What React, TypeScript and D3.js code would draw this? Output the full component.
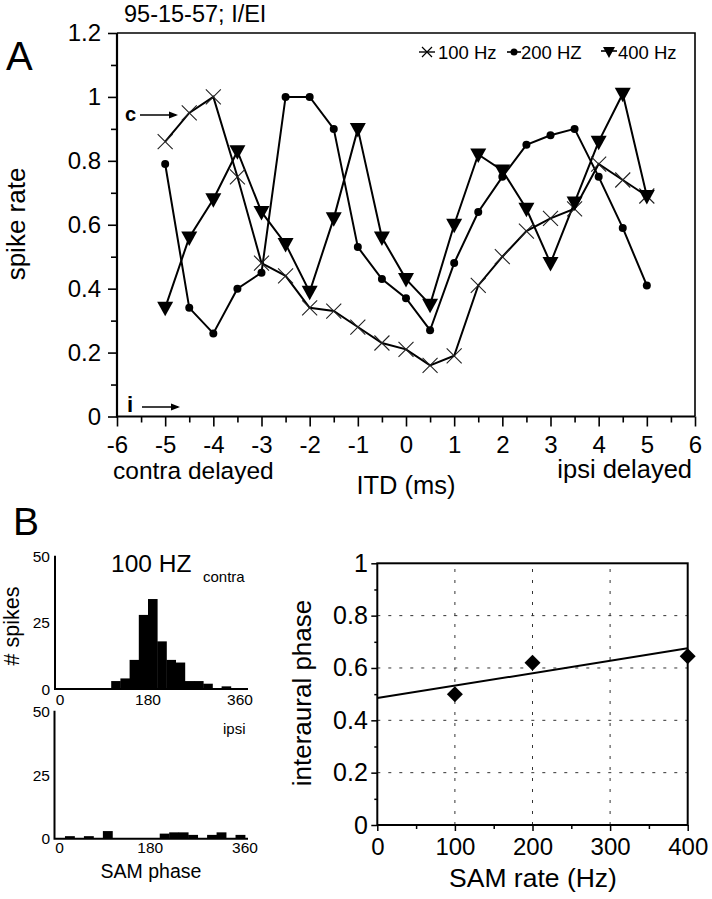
import React, { useEffect, useRef } from 'react';
import * as d3 from 'd3';

// Panel A: rate vs ITD for three SAM rates
const itdMs = [-5, -4.5, -4, -3.5, -3, -2.5, -2, -1.5, -1, -0.5, 0, 0.5, 1, 1.5, 2, 2.5, 3, 3.5, 4, 4.5, 5];
const rate100 = [0.86, 0.95, 1.0, 0.75, 0.48, 0.44, 0.34, 0.33, 0.28, 0.23, 0.21, 0.16, 0.19, 0.41, 0.5, 0.58, 0.62, 0.65, 0.79, 0.74, 0.69];
const rate200 = [0.79, 0.34, 0.26, 0.4, 0.45, 1.0, 1.0, 0.9, 0.53, 0.43, 0.37, 0.27, 0.48, 0.64, 0.75, 0.85, 0.88, 0.9, 0.75, 0.59, 0.41];
const rate400 = [0.34, 0.56, 0.68, 0.83, 0.64, 0.54, 0.39, 0.62, 0.9, 0.56, 0.43, 0.35, 0.6, 0.82, 0.77, 0.65, 0.48, 0.67, 0.86, 1.01, 0.69];
const itdMajor = [-6, -5, -4, -3, -2, -1, 0, 1, 2, 3, 4, 5, 6];
const rateTicks = [0, 0.2, 0.4, 0.6, 0.8, 1, 1.2];

// Panel B: phase histograms (18 deg bins)
const binStarts = [0, 18, 36, 54, 72, 90, 108, 126, 144, 162, 180, 198, 216, 234, 252, 270, 288, 306, 324, 342];
const contraCounts = [0, 0, 0, 0, 0, 0, 3, 4, 11, 28, 34, 18, 11, 10, 3, 3, 2, 0, 1, 0];
const ipsiCounts = [0, 1, 0, 1, 0, 3, 0, 0, 0, 0, 0, 2, 2.5, 2.5, 1.5, 0, 1.5, 2.5, 0, 1.5];
const phaseTicks = [0, 180, 360];
const countTicks = [0, 25, 50];

// Panel B: interaural phase vs SAM rate
const samRates = [100, 200, 400];
const interauralPhase = [0.5, 0.62, 0.645];
const fitRates = [0, 400];
const fitPhase = [0.485, 0.675];
const samTicks = [0, 100, 200, 300, 400];
const phaseAxisTicks = [0, 0.2, 0.4, 0.6, 0.8, 1];

const FONT = "'Liberation Sans', Arial, Helvetica, sans-serif";

const App = () => {
  const ref = useRef<SVGSVGElement | null>(null);

  useEffect(() => {
    const svg = d3.select(ref.current);
    svg.selectAll('*').remove();
    svg.attr('font-family', FONT);

    const fmt = (d: any) => String(+(+d).toFixed(1));

    // ---------- Panel A ----------
    const xA = d3.scaleLinear().domain([-6, 6]).range([117, 695]);
    const yA = d3.scaleLinear().domain([0, 1.2]).range([416.5, 33]);
    const gA = svg.append('g');

    // minor ticks
    gA.append('g')
      .attr('transform', `translate(${xA(-6)},0)`)
      .call(d3.axisLeft(yA).tickValues([0.1, 0.3, 0.5, 0.7, 0.9, 1.1]).tickSize(6).tickFormat(() => ''))
      .call((g) => g.select('.domain').remove());
    gA.append('g')
      .attr('transform', `translate(0,${yA(0)})`)
      .call(d3.axisBottom(xA).tickValues(itdMajor.slice(0, -1).map((d) => d + 0.5)).tickSize(6).tickFormat(() => ''))
      .call((g) => g.select('.domain').remove());

    const yAxisA = gA.append('g')
      .attr('transform', `translate(${xA(-6)},0)`)
      .call(d3.axisLeft(yA).tickValues(rateTicks).tickSize(9).tickPadding(7).tickFormat(fmt));
    yAxisA.select('.domain').remove();
    yAxisA.selectAll('text').attr('font-size', 24).attr('font-family', FONT);

    const xAxisA = gA.append('g')
      .attr('transform', `translate(0,${yA(0)})`)
      .call(d3.axisBottom(xA).tickValues(itdMajor).tickSize(10).tickPadding(9).tickFormat(fmt));
    xAxisA.select('.domain').remove();
    xAxisA.selectAll('text').attr('font-size', 24).attr('font-family', FONT);
    gA.selectAll('.tick line').attr('stroke', '#000').attr('stroke-width', 1.6);

    // frame
    gA.append('path')
      .attr('d', `M${xA(-6)},${yA(1.2)}V${yA(0)}H${xA(6)}`)
      .attr('fill', 'none').attr('stroke', '#000').attr('stroke-width', 2.2);
    gA.append('path')
      .attr('d', `M${xA(-6)},${yA(1.2)}H${xA(6)}V${yA(0)}`)
      .attr('fill', 'none').attr('stroke', '#000').attr('stroke-width', 1.6);

    const line = d3.line<number>().x((_, i) => xA(itdMs[i])).y((d) => yA(d));
    [rate100, rate200, rate400].forEach((s) => {
      gA.append('path').attr('d', line(s)).attr('fill', 'none').attr('stroke', '#000').attr('stroke-width', 2);
    });

    const xMark = (cx: number, cy: number, r: number) =>
      `M${cx - r},${cy - r}L${cx + r},${cy + r}M${cx - r},${cy + r}L${cx + r},${cy - r}`;
    const triMark = (cx: number, cy: number) =>
      `M${cx - 8},${cy - 6}L${cx + 8},${cy - 6}L${cx},${cy + 8.5}Z`;

    gA.append('g').selectAll('path').data(rate100).enter().append('path')
      .attr('d', (d, i) => xMark(xA(itdMs[i]), yA(d), 7.5))
      .attr('stroke', '#222').attr('stroke-width', 1.1).attr('fill', 'none');
    gA.append('g').selectAll('circle').data(rate200).enter().append('circle')
      .attr('cx', (_, i) => xA(itdMs[i])).attr('cy', (d) => yA(d)).attr('r', 4).attr('fill', '#000');
    gA.append('g').selectAll('path').data(rate400).enter().append('path')
      .attr('d', (d, i) => triMark(xA(itdMs[i]), yA(d))).attr('fill', '#000');

    // legend
    const lg = gA.append('g');
    const ly = 52;
    lg.append('path').attr('d', `M419,${ly}H435`).attr('stroke', '#000').attr('stroke-width', 1.4);
    lg.append('path').attr('d', xMark(427, ly, 5)).attr('stroke', '#000').attr('stroke-width', 1.2);
    lg.append('text').attr('x', 438).attr('y', ly + 6.5).attr('font-size', 18.5).text('100 Hz');
    lg.append('path').attr('d', `M507,${ly}H521`).attr('stroke', '#000').attr('stroke-width', 1.6);
    lg.append('circle').attr('cx', 514).attr('cy', ly).attr('r', 3.5);
    lg.append('text').attr('x', 521).attr('y', ly + 6.5).attr('font-size', 18.5).text('200 HZ');
    lg.append('path').attr('d', `M601,${ly - 1}H617`).attr('stroke', '#000').attr('stroke-width', 1.6);
    lg.append('path').attr('d', `M603,${ly - 5}L615,${ly - 5}L609,${ly + 6}Z`).attr('fill', '#000');
    lg.append('text').attr('x', 618).attr('y', ly + 6.5).attr('font-size', 18.5).text('400 Hz');

    // annotations
    const arrow = (x1: number, x2: number, y: number) => {
      gA.append('path').attr('d', `M${x1},${y}H${x2 - 2}`).attr('stroke', '#000').attr('stroke-width', 1.5);
      gA.append('path').attr('d', `M${x2},${y}L${x2 - 9},${y - 3.5}L${x2 - 9},${y + 3.5}Z`).attr('fill', '#000');
    };
    gA.append('text').attr('x', 125).attr('y', 121).attr('font-size', 20).attr('font-weight', 'bold').text('c');
    arrow(140, 178, 115);
    gA.append('text').attr('x', 127).attr('y', 412).attr('font-size', 22).attr('font-weight', 'bold').text('i');
    arrow(142, 180, 407);

    gA.append('text').attr('x', 124).attr('y', 22).attr('font-size', 23.5).text('95-15-57; I/EI');
    gA.append('text').attr('x', 6).attr('y', 70).attr('font-size', 40).text('A');
    gA.append('text').attr('transform', 'translate(25,224) rotate(-90)').attr('text-anchor', 'middle')
      .attr('font-size', 26).text('spike rate');
    gA.append('text').attr('x', 113).attr('y', 479).attr('font-size', 24.5).text('contra delayed');
    gA.append('text').attr('x', 406).attr('y', 494).attr('text-anchor', 'middle').attr('font-size', 25.5).text('ITD (ms)');
    gA.append('text').attr('x', 692).attr('y', 478).attr('text-anchor', 'end').attr('font-size', 25.5).text('ipsi delayed');

    // ---------- Panel B: histograms ----------
    const gB = svg.append('g');
    gB.append('text').attr('x', 13).attr('y', 535).attr('font-size', 39).text('B');

    const drawHist = (counts: number[], x0: number, x1: number, yBase: number, yTop: number, labelBase: number) => {
      const x = d3.scaleLinear().domain([0, 360]).range([x0, x1]);
      const y = d3.scaleLinear().domain([0, 50]).range([yBase, yTop]);
      const g = gB.append('g');
      g.selectAll('rect').data(counts).enter().append('rect')
        .attr('x', (_, i) => x(binStarts[i]))
        .attr('width', x(18) - x(0) + 0.4)
        .attr('y', (d) => y(d))
        .attr('height', (d) => y(0) - y(d))
        .attr('fill', '#000');
      g.append('path').attr('d', `M${x0 - 1},${yTop - 1}V${yBase}H248`).attr('fill', 'none')
        .attr('stroke', '#000').attr('stroke-width', 2);
      g.selectAll('.yl').data(countTicks).enter().append('text')
        .attr('x', 50).attr('y', (d) => y(d)).attr('dy', '0.36em').attr('text-anchor', 'end')
        .attr('font-size', 15.5).text((d) => d);
      g.selectAll('.xl').data(phaseTicks).enter().append('text')
        .attr('x', (d) => x(d) + (d === 0 ? 4 : 0)).attr('y', labelBase).attr('text-anchor', 'middle')
        .attr('font-size', 15.5).text((d) => d);
    };
    drawHist(contraCounts, 56, 240, 689, 556.7, 705);
    drawHist(ipsiCounts, 55.5, 245, 838.7, 711.7, 853);

    gB.append('text').attr('x', 111).attr('y', 572).attr('font-size', 24.5).text('100 HZ');
    gB.append('text').attr('x', 203).attr('y', 582).attr('font-size', 15).text('contra');
    gB.append('text').attr('x', 223).attr('y', 734).attr('font-size', 15).text('ipsi');
    gB.append('text').attr('transform', 'translate(19,626) rotate(-90)').attr('text-anchor', 'middle')
      .attr('font-size', 21.5).text('# spikes');
    gB.append('text').attr('x', 151).attr('y', 878).attr('text-anchor', 'middle').attr('font-size', 19.5).text('SAM phase');

    // ---------- Panel B: interaural phase ----------
    const xB = d3.scaleLinear().domain([0, 400]).range([377.3, 687.7]);
    const yB = d3.scaleLinear().domain([0, 1]).range([825, 563.3]);
    const gC = svg.append('g');

    gC.append('g').selectAll('line').data([100, 200, 300]).enter().append('line')
      .attr('x1', (d) => xB(d)).attr('x2', (d) => xB(d)).attr('y1', yB(0)).attr('y2', yB(1))
      .attr('stroke', '#333').attr('stroke-width', 1).attr('stroke-dasharray', '3,8');
    gC.append('g').selectAll('line').data([0.2, 0.4, 0.6, 0.8]).enter().append('line')
      .attr('x1', xB(0)).attr('x2', xB(400)).attr('y1', (d) => yB(d)).attr('y2', (d) => yB(d))
      .attr('stroke', '#333').attr('stroke-width', 1).attr('stroke-dasharray', '3,8');

    gC.append('g').attr('transform', `translate(${xB(0)},0)`)
      .call(d3.axisLeft(yB).tickValues([0.1, 0.3, 0.5, 0.7, 0.9]).tickSize(3).tickFormat(() => ''))
      .call((g) => g.select('.domain').remove());
    gC.append('g').attr('transform', `translate(0,${yB(0)})`)
      .call(d3.axisBottom(xB).tickValues([50, 150, 250, 350]).tickSize(4).tickFormat(() => ''))
      .call((g) => g.select('.domain').remove());

    const yAxisB = gC.append('g').attr('transform', `translate(${xB(0)},0)`)
      .call(d3.axisLeft(yB).tickValues(phaseAxisTicks).tickSize(6).tickPadding(3.5).tickFormat(fmt));
    yAxisB.select('.domain').remove();
    yAxisB.selectAll('text').attr('font-size', 25).attr('font-family', FONT);
    const xAxisB = gC.append('g').attr('transform', `translate(0,${yB(0)})`)
      .call(d3.axisBottom(xB).tickValues(samTicks).tickSize(6).tickPadding(7).tickFormat(fmt));
    xAxisB.select('.domain').remove();
    xAxisB.selectAll('text').attr('font-size', 24).attr('font-family', FONT);
    gC.selectAll('.tick line').attr('stroke', '#000').attr('stroke-width', 1.5);

    gC.append('rect').attr('x', xB(0)).attr('y', yB(1)).attr('width', xB(400) - xB(0)).attr('height', yB(0) - yB(1))
      .attr('fill', 'none').attr('stroke', '#000').attr('stroke-width', 2);

    const fit = d3.line<number>().x((_, i) => xB(fitRates[i])).y((d) => yB(d));
    gC.append('path').attr('d', fit(fitPhase)).attr('stroke', '#000').attr('stroke-width', 2).attr('fill', 'none');

    gC.append('g').selectAll('path').data(interauralPhase).enter().append('path')
      .attr('d', (d, i) => {
        const cx = xB(samRates[i]);
        const cy = yB(d);
        return `M${cx},${cy - 8}L${cx + 8},${cy}L${cx},${cy + 8}L${cx - 8},${cy}Z`;
      })
      .attr('fill', '#000');

    gC.append('text').attr('transform', 'translate(311,693) rotate(-90)').attr('text-anchor', 'middle')
      .attr('font-size', 26).text('interaural phase');
    gC.append('text').attr('x', 533).attr('y', 887).attr('text-anchor', 'middle').attr('font-size', 26.5).text('SAM rate (Hz)');
  }, []);

  return (
    <svg
      ref={ref}
      width={712}
      height={899}
      style={{ position: 'absolute', left: 0, top: 0, background: '#fff' }}
    />
  );
};

export default App;
